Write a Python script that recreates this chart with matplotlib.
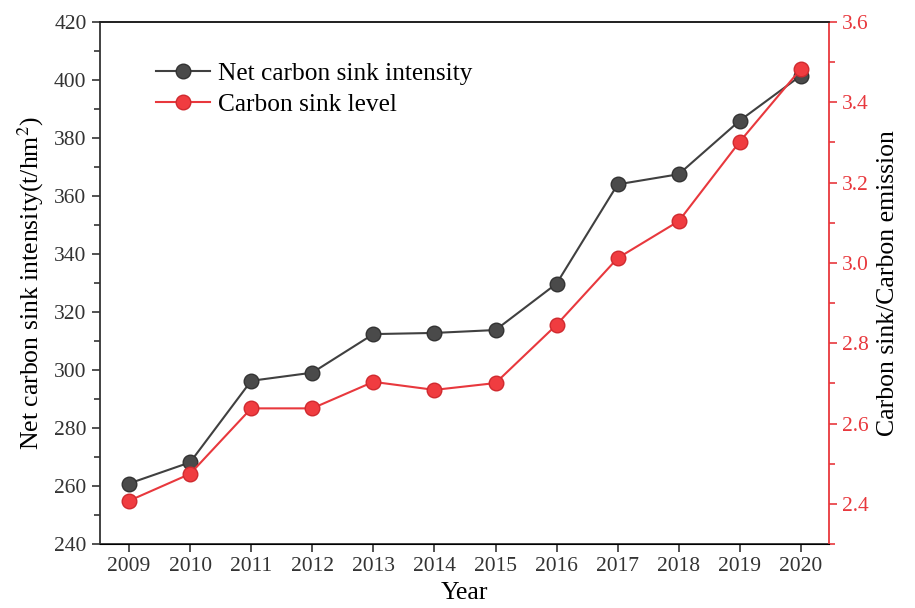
import numpy as np
import matplotlib
matplotlib.use("Agg")
import matplotlib.pyplot as plt
from matplotlib.ticker import MultipleLocator

plt.rcParams['font.family'] = ['Liberation Serif', 'DejaVu Serif']
plt.rcParams['mathtext.fontset'] = 'stix'

# data
years = [2009, 2010, 2011, 2012, 2013, 2014, 2015, 2016, 2017, 2018, 2019, 2020]
net_sink = [260.9, 268.2, 296.3, 299.1, 312.4, 312.8, 313.8, 329.8, 364.0, 367.5, 386.0, 401.5]
sink_level = [2.408, 2.475, 2.638, 2.638, 2.704, 2.684, 2.701, 2.846, 3.012, 3.104, 3.302, 3.483]

black = '#404040'
red = '#e8383d'

fig = plt.figure(figsize=(9.15, 6.08), dpi=100)
ax = fig.add_axes([0.109, 0.105, 0.797, 0.859])
ax2 = ax.twinx()

l1, = ax.plot(years, net_sink, '-o', color=black, lw=1.5, ms=10.5,
              mfc='#4a4a4a', mec='#333333', label='Net carbon sink intensity')
l2, = ax2.plot(years, sink_level, '-o', color=red, lw=1.5, ms=10.5,
               mfc='#f03c40', mec='#d02a2f', label='Carbon sink level')

ax.set_xlim(2008.52, 2020.46)
ax.set_ylim(240, 420)
ax2.set_ylim(2.3, 3.6)
ax.set_xticks(years)
ax.yaxis.set_major_locator(MultipleLocator(20))
ax.yaxis.set_minor_locator(MultipleLocator(10))
ax2.yaxis.set_major_locator(MultipleLocator(0.2))
ax2.yaxis.set_minor_locator(MultipleLocator(0.1))

ax.tick_params(axis='both', which='major', direction='out', length=6, width=1.2,
               labelsize=15.5, labelcolor='#333333', color='#333333')
ax.tick_params(axis='y', which='minor', direction='out', length=4, width=1.2, color='#333333')
ax2.tick_params(axis='y', which='major', direction='out', length=6, width=1.2,
                labelsize=15.5, colors=red)
ax2.tick_params(axis='y', which='minor', direction='out', length=4, width=1.2, colors=red)

for s in ['left', 'bottom', 'top']:
    ax.spines[s].set_linewidth(1.3)
    ax.spines[s].set_color('#333333')
ax2.spines['top'].set_linewidth(1.3)
ax2.spines['top'].set_color('#222222')
ax2.spines['right'].set_color(red)
ax2.spines['right'].set_linewidth(1.3)
ax2.spines['left'].set_visible(False)
ax.spines['right'].set_visible(False)

ax.set_xlabel('Year', fontsize=18.5, labelpad=4)
ax.set_ylabel('Net carbon sink intensity(t/hm$^2$)', fontsize=18.5, labelpad=6)
ax2.set_ylabel('Carbon sink/Carbon emission', fontsize=18.5, labelpad=6)

ax.legend(handles=[l1, l2], loc='upper left', bbox_to_anchor=(0.063, 0.942),
          frameon=False, fontsize=18.3, handlelength=2.15, handletextpad=0.3,
          labelspacing=0.3, borderaxespad=0)

fig.savefig('out.png', dpi=100)
